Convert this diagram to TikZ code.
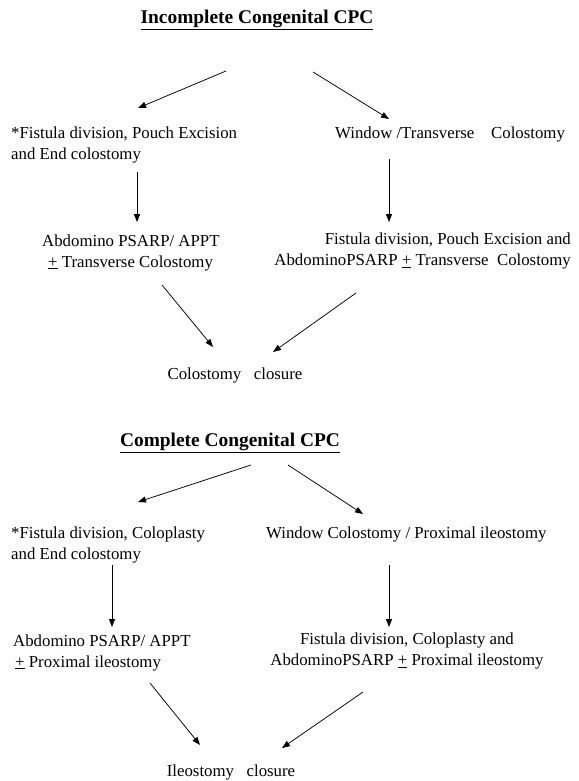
\documentclass[tikz,border=0pt]{standalone}
\usepackage{fontspec}
\setmainfont{Liberation Serif}
\usetikzlibrary{arrows.meta}

\begin{document}
\begin{tikzpicture}[x=1pt, y=-1pt,
    every node/.style={inner sep=0pt, font=\fontsize{16.8}{21}\selectfont},
    heading/.style={font=\fontsize{19.4}{23}\selectfont\bfseries},
    arr/.style={-{Triangle[length=8pt,width=6pt]}, line width=0.75pt}]
    \useasboundingbox (0,0) rectangle (578,781);

    % Incomplete congenital CPC
    \node[heading] (inc) at (257,20) {\underline{Incomplete Congenital CPC}};
    \node[anchor=west, align=left] (incL1) at (11,145)
        {*Fistula division, Pouch Excision\\and End colostomy};
    \node[anchor=west] (incR1) at (335,134) {Window /Transverse\quad Colostomy};
    \node[anchor=west, align=left] (incL2) at (42,252.5)
        {Abdomino PSARP/ APPT\\\hspace*{6pt}\underline{+} Transverse Colostomy};
    \node[anchor=east, align=right] (incR2) at (571,251)
        {Fistula division, Pouch Excision and\\AbdominoPSARP \underline{+} Transverse\ \ Colostomy};
    \node (incC) at (235,375) {Colostomy\ \ \ closure};

    % arrow ends
    \coordinate (i1) at (226,71);  \coordinate (i1e) at (138,108);
    \coordinate (i2) at (313,72);  \coordinate (i2e) at (389,119);
    \coordinate (i3) at (137,172); \coordinate (i3e) at (137,222);
    \coordinate (i4) at (389,159); \coordinate (i4e) at (389,222);
    \coordinate (i5) at (162,285); \coordinate (i5e) at (213,347);
    \coordinate (i6) at (356,293); \coordinate (i6e) at (273,352);

    \draw[arr] (i1) -- (i1e);
    \draw[arr] (i2) -- (i2e);
    \draw[arr] (i3) -- (i3e);
    \draw[arr] (i4) -- (i4e);
    \draw[arr] (i5) -- (i5e);
    \draw[arr] (i6) -- (i6e);

    % Complete congenital CPC
    \node[heading] (cmp) at (230,443) {\underline{Complete Congenital CPC}};
    \node[anchor=west, align=left] (cmpL1) at (11,545)
        {*Fistula division, Coloplasty\\and End colostomy};
    \node[anchor=west] (cmpR1) at (266,534) {Window Colostomy / Proximal ileostomy};
    \node[anchor=west, align=left] (cmpL2) at (13,652.5)
        {Abdomino PSARP/ APPT\\\hspace*{2pt}\underline{+} Proximal ileostomy};
    \node[align=center] (cmpR2) at (407,651)
        {Fistula division, Coloplasty and\\AbdominoPSARP \underline{+} Proximal ileostomy};
    \node (cmpC) at (231,772) {Ileostomy\ \ \ closure};

    \coordinate (c1) at (251,465); \coordinate (c1e) at (138,502);
    \coordinate (c2) at (288,465); \coordinate (c2e) at (363,514);
    \coordinate (c3) at (112,565); \coordinate (c3e) at (112,627);
    \coordinate (c4) at (389,565); \coordinate (c4e) at (389,627);
    \coordinate (c5) at (150,683); \coordinate (c5e) at (200,745);
    \coordinate (c6) at (363,692); \coordinate (c6e) at (282,748);

    \draw[arr] (c1) -- (c1e);
    \draw[arr] (c2) -- (c2e);
    \draw[arr] (c3) -- (c3e);
    \draw[arr] (c4) -- (c4e);
    \draw[arr] (c5) -- (c5e);
    \draw[arr] (c6) -- (c6e);
\end{tikzpicture}
\end{document}
